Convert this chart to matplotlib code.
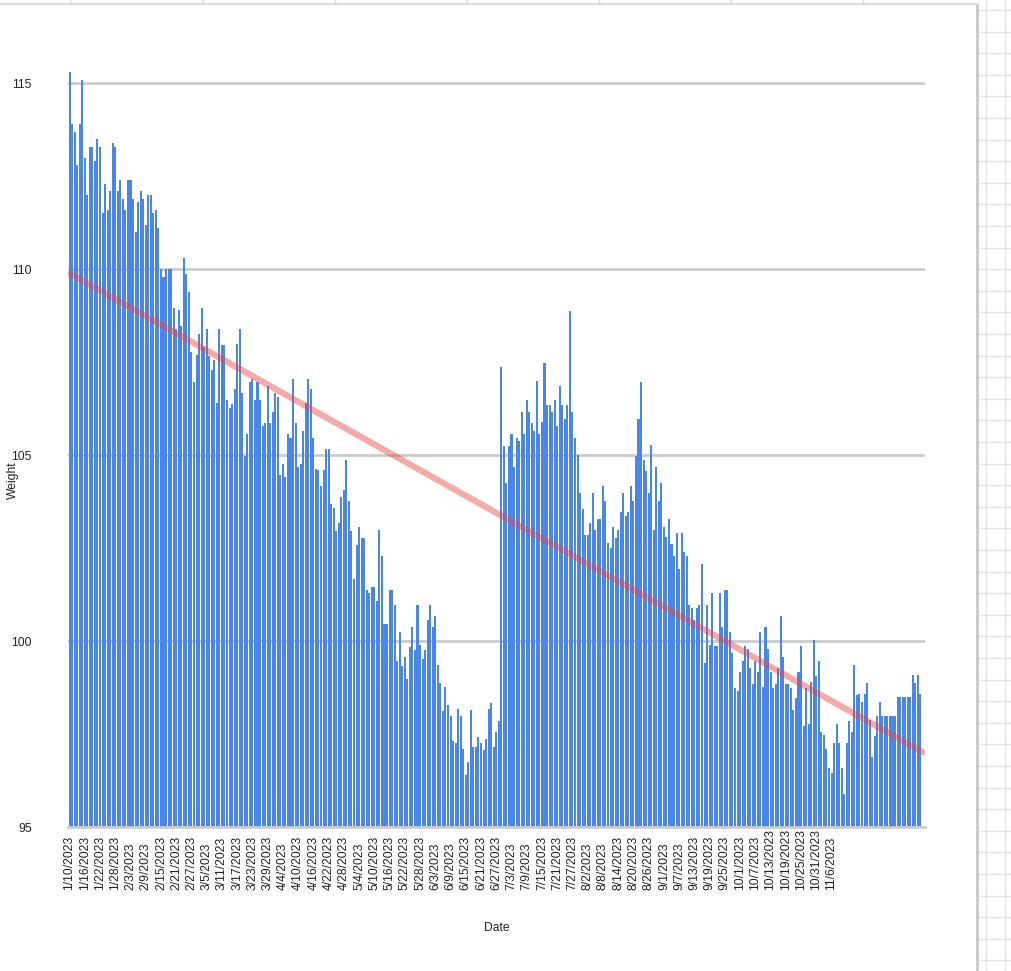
import numpy as np
import matplotlib
matplotlib.use("Agg")
import matplotlib.pyplot as plt
from matplotlib.lines import Line2D

plt.rcParams['font.family'] = ['Liberation Sans', 'DejaVu Sans']

# daily weights starting 1/10/2023
weights = [
    115.3, 113.9, 113.7, 112.8, 113.9, 115.1, 113.0, 112.0, 113.3, 113.3,
    112.9, 113.5, 113.3, 111.5, 112.3, 111.6, 112.1, 113.4, 113.3, 112.1,
    112.4, 111.9, 111.6, 112.4, 112.4, 111.9, 111.0, 111.8, 112.1, 111.9,
    111.2, 112.0, 112.0, 111.5, 111.6, 111.1, 110.0, 109.8, 110.0, 110.0,
    110.0, 108.97, 108.38, 108.9, 108.47, 110.29, 109.88, 109.39, 107.78, 106.97,
    107.69, 108.25, 108.97, 107.91, 108.39, 107.66, 107.28, 107.55, 106.39, 108.39,
    107.97, 107.97, 106.48, 106.28, 106.37, 106.77, 107.98, 108.39, 106.66, 104.97,
    105.58, 106.97, 107.06, 106.48, 106.97, 106.48, 105.78, 105.87, 106.85, 105.87,
    106.16, 106.66, 106.57, 104.46, 104.76, 104.4, 105.58, 105.45, 107.06, 105.87,
    104.67, 104.76, 105.65, 106.39, 107.06, 106.77, 105.45, 104.64, 104.6, 104.17,
    104.6, 105.16, 105.16, 103.68, 103.57, 102.97, 103.18, 103.88, 104.06, 104.87,
    103.77, 102.97, 101.66, 102.58, 103.06, 102.76, 102.76, 101.37, 101.28, 101.46,
    101.46, 101.08, 102.98, 102.28, 100.47, 100.47, 101.37, 101.37, 100.97, 99.47,
    100.25, 99.33, 99.56, 98.97, 99.83, 100.39, 99.76, 100.97, 99.89, 99.53,
    99.76, 100.58, 100.97, 100.39, 100.67, 99.35, 98.86, 98.13, 98.77, 98.28,
    97.98, 97.32, 97.27, 98.16, 97.98, 97.11, 96.4, 96.76, 98.15, 97.16,
    97.16, 97.43, 97.27, 97.07, 97.36, 98.16, 98.34, 97.16, 97.56, 97.86,
    107.36, 105.25, 104.26, 105.25, 105.56, 104.67, 105.45, 105.39, 106.16, 105.56,
    106.48, 106.16, 105.87, 105.65, 107.0, 105.56, 105.9, 107.48, 106.36, 106.36,
    106.16, 106.48, 105.78, 106.85, 106.36, 105.96, 106.36, 108.88, 106.16, 105.45,
    105.0, 103.97, 103.54, 102.85, 102.85, 103.18, 103.97, 102.98, 103.27, 103.27,
    104.17, 103.77, 102.64, 102.5, 103.06, 102.76, 102.98, 103.48, 103.97, 103.36,
    103.48, 104.17, 103.77, 104.97, 105.96, 106.97, 104.87, 104.58, 103.97, 105.27,
    102.98, 104.67, 103.77, 104.26, 103.07, 102.79, 103.27, 102.6, 102.3, 102.9,
    101.95, 102.9, 102.4, 102.3, 100.97, 100.88, 100.56, 100.9, 100.97, 102.07,
    99.42, 100.97, 99.89, 101.28, 99.87, 99.87, 101.28, 100.39, 101.37, 101.37,
    100.25, 99.67, 98.73, 98.66, 99.18, 99.47, 99.87, 99.78, 99.27, 98.84,
    99.47, 99.18, 100.25, 98.77, 100.37, 99.8, 99.18, 98.75, 98.84, 99.27,
    100.67, 99.56, 98.84, 98.84, 98.75, 98.15, 98.46, 99.18, 99.87, 97.72,
    98.75, 97.77, 98.9, 100.04, 99.06, 99.47, 97.56, 97.47, 97.11, 96.58,
    96.46, 97.27, 97.77, 97.27, 96.58, 95.9, 97.27, 97.86, 97.56, 99.35,
    98.55, 98.58, 98.37, 98.58, 98.86, 97.88, 96.87, 97.45, 97.98, 98.37,
    97.98, 97.98, 97.98, 97.98, 97.98, 97.98, 98.49, 98.49, 98.49, 98.49,
    98.49, 98.49, 99.09, 98.86, 99.09, 98.58,
]

tick_labels = [
    "1/10/2023", "1/16/2023", "1/22/2023", "1/28/2023", "2/3/2023", "2/9/2023",
    "2/15/2023", "2/21/2023", "2/27/2023", "3/5/2023", "3/11/2023", "3/17/2023",
    "3/23/2023", "3/29/2023", "4/4/2023", "4/10/2023", "4/16/2023", "4/22/2023",
    "4/28/2023", "5/4/2023", "5/10/2023", "5/16/2023", "5/22/2023", "5/28/2023",
    "6/3/2023", "6/9/2023", "6/15/2023", "6/21/2023", "6/27/2023", "7/3/2023",
    "7/9/2023", "7/15/2023", "7/21/2023", "7/27/2023", "8/2/2023", "8/8/2023",
    "8/14/2023", "8/20/2023", "8/26/2023", "9/1/2023", "9/7/2023", "9/13/2023",
    "9/19/2023", "9/25/2023", "10/1/2023", "10/7/2023", "10/13/2023", "10/19/2023",
    "10/25/2023", "10/31/2023", "11/6/2023",
]
label_step = 6
y_ticks = [95, 100, 105, 110, 115]

W, H = 1011, 971
fig = plt.figure(figsize=(W / 100, H / 100), dpi=100)
fig.patch.set_facecolor('white')

# spreadsheet background decorations
deco = '#d9d9d9'
for yy in np.arange(10, H, 21.6):
    fig.add_artist(Line2D([977 / W, 1], [1 - yy / H, 1 - yy / H], color='#e3e3e3', lw=1))
for xx in [986, 1005]:
    fig.add_artist(Line2D([xx / W, xx / W], [0, 1], color='#e3e3e3', lw=1))
fig.add_artist(Line2D([977 / W, 977 / W], [0, 1 - 4 / H], color='#c8c8c8', lw=2))
fig.add_artist(Line2D([0, 977 / W], [1 - 4 / H, 1 - 4 / H], color='#dcdcdc', lw=1.5))
for xx in [70, 203, 335, 467, 599, 731, 863]:
    fig.add_artist(Line2D([xx / W, xx / W], [1 - 4 / H, 1], color=deco, lw=1))

ax = fig.add_axes([68 / W, (H - 827) / H, (925 - 68) / W, (827 - 61) / H])
n = len(weights)
x = np.arange(n)
ax.bar(x, weights, width=0.8, color='#4a86e8', zorder=2)

# linear trendline
coef = np.polyfit(x, weights, 1)
xl = np.array([-0.6, 336.8])
ax.plot(xl, np.polyval(coef, xl), color='#e8453c', alpha=0.45, lw=4.5, zorder=3,
        solid_capstyle='butt')

ax.set_xlim(-0.6, 336.8)
ax.set_ylim(95, 115.6)
ax.set_yticks(y_ticks)
ax.set_yticklabels([str(v) for v in y_ticks])
ax.yaxis.grid(True, color='#cccccc', lw=2)
ax.set_axisbelow(True)

pos = np.arange(len(tick_labels)) * label_step
ax.set_xticks(pos)
ax.set_xticklabels(tick_labels, rotation=90, va='bottom', ha='center')

ax.tick_params(axis='x', length=0, pad=45.5, labelsize=8.7, labelcolor='#222222')
ax.tick_params(axis='y', length=0, pad=26, labelsize=8.7, labelcolor='#222222')

for s in ['top', 'right', 'left']:
    ax.spines[s].set_visible(False)
ax.spines['bottom'].set_color('#cccccc')
ax.spines['bottom'].set_linewidth(2)

fig.text(13 / W, 1 - 480 / H, 'Weight', rotation=90, ha='center', va='center',
         fontsize=8.7, color='#222222')
fig.text(497 / W, 1 - 928 / H, 'Date', ha='center', va='center',
         fontsize=8.7, color='#222222')

fig.savefig('out.png', dpi=100, facecolor='white')
